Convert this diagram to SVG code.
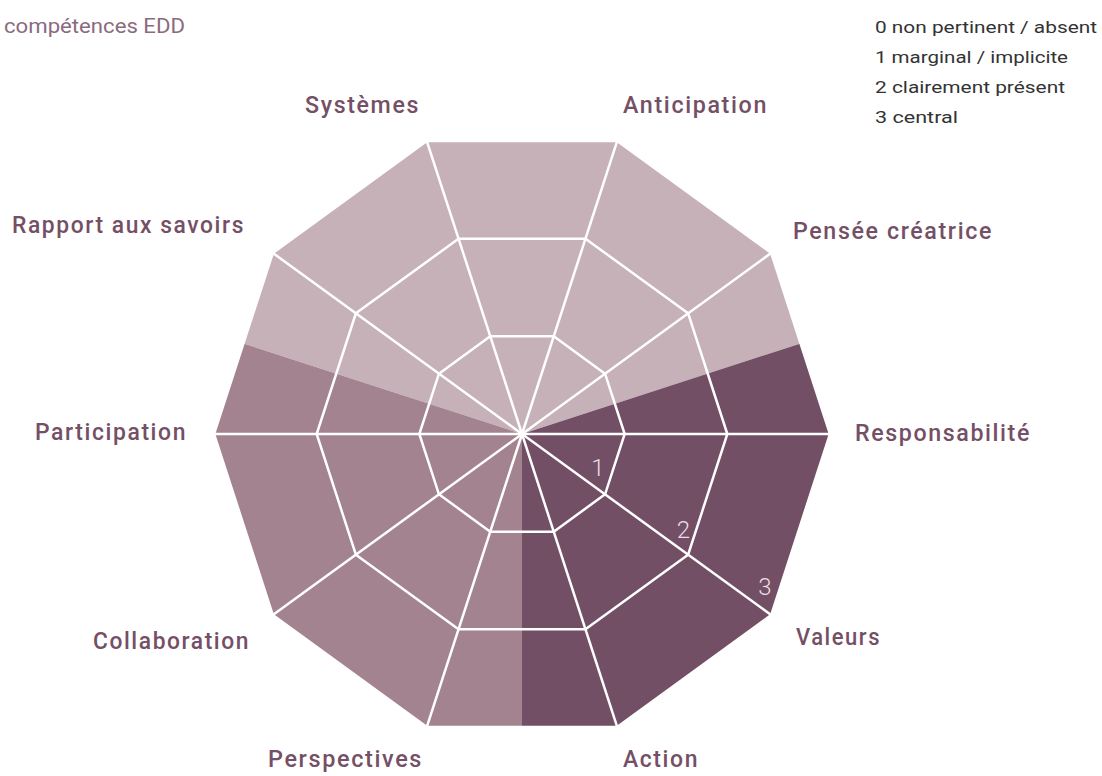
<svg xmlns="http://www.w3.org/2000/svg" width="1102" height="776" viewBox="0 0 1102 776">
<style>
.lbl{font-family:Roboto,"Liberation Sans",sans-serif;font-weight:500;font-size:23px;fill:#744f66;letter-spacing:1.6px}
.leg{font-family:Roboto,"Liberation Sans",sans-serif;font-weight:400;font-size:17px;fill:#333333}
.title{font-family:Roboto,"Liberation Sans",sans-serif;font-weight:400;font-size:20px;fill:#8b6a7e}
.num{font-family:Roboto,"Liberation Sans",sans-serif;font-weight:300;font-size:24px;fill:#e8dee4;text-anchor:middle}
.grid{fill:none;stroke:#ffffff;stroke-width:2.5;stroke-linejoin:miter}
</style>
<rect width="1102" height="776" fill="#ffffff"/>
<text class="title" x="4" y="33" textLength="181" lengthAdjust="spacingAndGlyphs">compétences EDD</text>
<g id="legend">
<text class="leg" x="875" y="33" textLength="222" lengthAdjust="spacingAndGlyphs">0 non pertinent / absent</text>
<text class="leg" x="875" y="63" textLength="193" lengthAdjust="spacingAndGlyphs">1 marginal / implicite</text>
<text class="leg" x="875" y="93" textLength="190" lengthAdjust="spacingAndGlyphs">2 clairement présent</text>
<text class="leg" x="875" y="123" textLength="83" lengthAdjust="spacingAndGlyphs">3 central</text>
</g>
<g id="sectors">
<polygon fill="#c6b1b9" points="522,434 243.41,343.48 272.82,252.96 426.82,141.07 617.18,141.07 771.18,252.96 800.59,343.48"/>
<polygon fill="#a3838f" points="522,434 522,726.93 426.82,726.93 272.82,615.04 214,434 243.41,343.48"/>
<polygon fill="#734f66" points="522,434 800.59,343.48 830,434 771.18,615.04 617.18,726.93 522,726.93"/>
</g>
<g id="connectors" class="grid">
<polygon points="830,434 771.18,252.96 617.18,141.07 426.82,141.07 272.82,252.96 214,434 272.82,615.04 426.82,726.93 617.18,726.93 771.18,615.04"/>
<polygon points="727.33,434 688.12,313.31 585.45,238.72 458.55,238.72 355.88,313.31 316.67,434 355.88,554.69 458.55,629.28 585.45,629.28 688.12,554.69"/>
<polygon points="624.67,434 605.06,373.65 553.73,336.36 490.27,336.36 438.94,373.65 419.33,434 438.94,494.35 490.27,531.64 553.73,531.64 605.06,494.35"/>
<line x1="830" y1="434" x2="214" y2="434"/>
<line x1="771.18" y1="252.96" x2="272.82" y2="615.04"/>
<line x1="617.18" y1="141.07" x2="426.82" y2="726.93"/>
<line x1="426.82" y1="141.07" x2="617.18" y2="726.93"/>
<line x1="272.82" y1="252.96" x2="771.18" y2="615.04"/>
</g>
<g id="scale">
<text class="num" x="598" y="476">1</text>
<text class="num" x="683.5" y="538">2</text>
<text class="num" x="765" y="595">3</text>
</g>
<g id="node-systemes"><text class="lbl" x="305" y="113" textLength="115" lengthAdjust="spacingAndGlyphs">Systèmes</text></g>
<g id="node-anticipation"><text class="lbl" x="623" y="113" textLength="145" lengthAdjust="spacingAndGlyphs">Anticipation</text></g>
<g id="node-rapport"><text class="lbl" x="12" y="233" textLength="233" lengthAdjust="spacingAndGlyphs">Rapport aux savoirs</text></g>
<g id="node-pensee"><text class="lbl" x="793" y="239" textLength="200" lengthAdjust="spacingAndGlyphs">Pensée créatrice</text></g>
<g id="node-participation"><text class="lbl" x="35" y="440" textLength="152" lengthAdjust="spacingAndGlyphs">Participation</text></g>
<g id="node-responsabilite"><text class="lbl" x="855" y="441" textLength="176" lengthAdjust="spacingAndGlyphs">Responsabilité</text></g>
<g id="node-collaboration"><text class="lbl" x="93" y="649" textLength="157" lengthAdjust="spacingAndGlyphs">Collaboration</text></g>
<g id="node-valeurs"><text class="lbl" x="796" y="645" textLength="85" lengthAdjust="spacingAndGlyphs">Valeurs</text></g>
<g id="node-perspectives"><text class="lbl" x="268" y="767" textLength="155" lengthAdjust="spacingAndGlyphs">Perspectives</text></g>
<g id="node-action"><text class="lbl" x="623" y="767" textLength="76" lengthAdjust="spacingAndGlyphs">Action</text></g>
</svg>
